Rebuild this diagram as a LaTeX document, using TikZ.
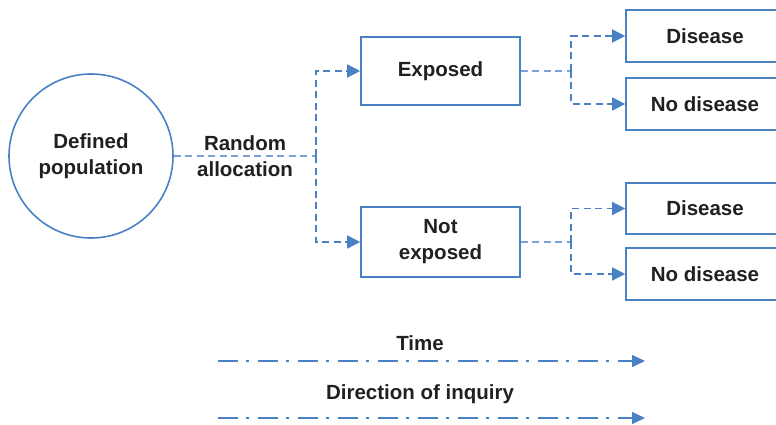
\documentclass[tikz,border=0pt]{standalone}
\usepackage{fontspec}
\setmainfont{Liberation Sans}
\usetikzlibrary{arrows.meta}
\definecolor{lineblue}{HTML}{4A80C4}
\definecolor{lightblue}{HTML}{7BA1D6}
\definecolor{txt}{HTML}{231F20}
\begin{document}
\begin{tikzpicture}[x=1pt,y=1pt,
  every node/.style={text=txt,font=\bfseries\fontsize{20.5}{26}\selectfont},
  box/.style={draw=lineblue,line width=1.6pt,rectangle,inner sep=0pt,align=center},
  flow/.style={draw=lineblue,line width=1.4pt,dash pattern=on 7pt off 4.5pt},
  lightflow/.style={draw=lightblue,line width=1.2pt,dash pattern=on 7pt off 4.5pt},
  arr/.style={-{Triangle[length=13pt,width=13pt]},lineblue},
  axis/.style={draw=lineblue,line width=1.4pt,dash pattern=on 20pt off 8pt on 3pt off 9pt,-{Triangle[length=13pt,width=12pt]}}]
\clip (0,0) rectangle (776,-425);
\node[draw=lineblue,line width=1.6pt,circle,minimum size=164pt,inner sep=0pt,align=center] (pop) at (91,-156) {Defined\\population};
\node[align=center] (ra) at (245,-156) {Random\\allocation};
\node[box,minimum width=159pt,minimum height=68pt] (exp) at (440.5,-71) {Exposed};
\node[box,minimum width=159pt,minimum height=70pt] (nexp) at (440.5,-242) {Not\\exposed};
\node[box,minimum width=158pt,minimum height=52pt] (d1) at (705,-36) {Disease};
\node[box,minimum width=158pt,minimum height=52pt] (nd1) at (705,-104) {No disease};
\node[box,minimum width=158pt,minimum height=51pt] (d2) at (705,-208.5) {Disease};
\node[box,minimum width=158pt,minimum height=52pt] (nd2) at (705,-274) {No disease};
\coordinate (j1) at (316,-156);
\coordinate (j2) at (571,-71);
\coordinate (j3) at (571,-242);
\draw[lightflow] (pop.east) -- (j1);
\draw[flow,arr] (j1) |- (exp.west);
\draw[flow,arr] (j1) |- (nexp.west);
\draw[lightflow] (exp.east) -- (j2);
\draw[flow,arr] (j2) |- (d1.west);
\draw[flow,arr] (j2) |- (nd1.west);
\draw[lightflow] (nexp.east) -- (j3);
\draw[flow,arr] (j3) |- (d2.west);
\draw[flow,arr] (j3) |- (nd2.west);
\node (time) at (420,-343) {Time};
\node (dir) at (420,-394) {Direction of inquiry};
\coordinate (t1) at (218,-361);
\coordinate (t2) at (645,-361);
\coordinate (u1) at (218,-418);
\coordinate (u2) at (645,-418);
\draw[axis] (t1) -- (t2);
\draw[axis] (u1) -- (u2);
\end{tikzpicture}
\end{document}
